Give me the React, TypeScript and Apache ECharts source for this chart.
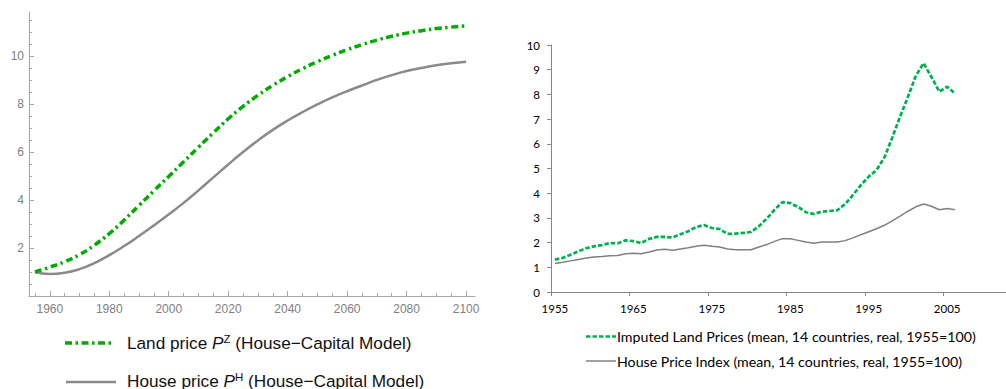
import React, { useEffect, useRef } from "react";
import * as echarts from "echarts";

// ---- House-Capital Model projection (index, 1955 = 1), 5-year steps ----
const modelYears = [
  1955, 1960, 1965, 1970, 1975, 1980, 1985, 1990, 1995, 2000, 2005, 2010, 2015, 2020, 2025,
  2030, 2035, 2040, 2045, 2050, 2055, 2060, 2065, 2070, 2075, 2080, 2085, 2090, 2095, 2100,
];
const landPriceModel = [
  1.0, 1.2, 1.43, 1.72, 2.12, 2.6, 3.16, 3.77, 4.38, 4.98, 5.59, 6.2, 6.8, 7.38, 7.9,
  8.36, 8.77, 9.14, 9.47, 9.76, 10.02, 10.26, 10.47, 10.66, 10.82, 10.95, 11.05, 11.14, 11.2, 11.25,
];
const housePriceModel = [
  1.0, 0.92, 0.97, 1.12, 1.37, 1.7, 2.08, 2.5, 2.94, 3.4, 3.88, 4.4, 4.94, 5.48, 6.0,
  6.48, 6.92, 7.31, 7.66, 7.98, 8.27, 8.53, 8.77, 9.0, 9.2, 9.37, 9.5, 9.61, 9.7, 9.76,
];
const modelLabelYears = [1960, 1980, 2000, 2020, 2040, 2060, 2080, 2100];
const modelMinorYears = [
  1955, 1965, 1970, 1975, 1985, 1990, 1995, 2005, 2010, 2015, 2025, 2030, 2035, 2045, 2050,
  2055, 2065, 2070, 2075, 2085, 2090, 2095,
];
const modelLabelValues = [2, 4, 6, 8, 10];
const modelMinorValues = [0.5, 1, 1.5, 2.5, 3, 3.5, 4.5, 5, 5.5, 6.5, 7, 7.5, 8.5, 9, 9.5, 10.5, 11, 11.5];

// ---- Historical indices (mean, 14 countries, real, 1955 = 1) ----
const histYears = [
  "1955", "1956", "1957", "1958", "1959", "1960", "1961", "1962", "1963", "1964",
  "1965", "1966", "1967", "1968", "1969", "1970", "1971", "1972", "1973", "1974",
  "1975", "1976", "1977", "1978", "1979", "1980", "1981", "1982", "1983", "1984",
  "1985", "1986", "1987", "1988", "1989", "1990", "1991", "1992", "1993", "1994",
  "1995", "1996", "1997", "1998", "1999", "2000", "2001", "2002", "2003", "2004",
  "2005", "2006", "2007", "2008", "2009", "2010", "2011", "2012",
];
const imputedLandPrices = [
  1.31, 1.38, 1.51, 1.65, 1.77, 1.85, 1.9, 1.98, 1.97, 2.09,
  2.06, 1.98, 2.15, 2.23, 2.23, 2.21, 2.34, 2.46, 2.63, 2.71,
  2.59, 2.55, 2.35, 2.36, 2.39, 2.43, 2.66, 2.97, 3.33, 3.64,
  3.6, 3.44, 3.23, 3.16, 3.25, 3.28, 3.31, 3.56, 3.93, 4.33,
  4.67, 4.94, 5.45, 6.25, 7.1, 7.9, 8.75, 9.26, 8.7, 8.11,
  8.31, 8.04,
];
const housePriceIndex = [
  1.15, 1.2, 1.26, 1.32, 1.38, 1.42, 1.44, 1.47, 1.48, 1.55,
  1.57, 1.55, 1.62, 1.7, 1.73, 1.69, 1.74, 1.79, 1.85, 1.89,
  1.85, 1.82, 1.74, 1.71, 1.71, 1.71, 1.82, 1.92, 2.05, 2.16,
  2.16, 2.09, 2.02, 1.97, 2.02, 2.02, 2.02, 2.08, 2.19, 2.32,
  2.44, 2.56, 2.7, 2.88, 3.07, 3.27, 3.45, 3.56, 3.47, 3.33,
  3.38, 3.33,
];

const LAND_MODEL = "#00aa00";
const HOUSE_MODEL = "#8a8a8a";
const LAND_HIST = "#00b050";
const HOUSE_HIST = "#808080";
const MODEL_AXIS = "#a6a6a6";
const MODEL_TEXT = "#808080";
const SANS = "'Liberation Sans', Arial, sans-serif";
const NARROW = "Lato, 'Liberation Sans', sans-serif";

const legendRich = {
  a: { fontFamily: SANS, fontSize: 17.2, lineHeight: 20, fill: "#111" },
  p: { fontFamily: SANS, fontSize: 17.2, fontStyle: "italic", lineHeight: 20, fill: "#111" },
  s: { fontFamily: SANS, fontSize: 11.5, lineHeight: 12, verticalAlign: "top", fill: "#111" },
};

export default function App() {
  const ref = useRef<HTMLDivElement>(null);

  useEffect(() => {
    if (!ref.current) return;
    const chart = echarts.init(ref.current, null, { renderer: "svg" });

    const option: any = {
      animation: false,
      backgroundColor: "#ffffff",
      grid: [
        { left: 29, top: 12, width: 446, height: 284 },
        { left: 551, top: 45, width: 512, height: 247 },
      ],
      xAxis: [
        {
          gridIndex: 0,
          type: "value",
          min: 1953,
          max: 2103,
          axisLine: { show: true, lineStyle: { color: MODEL_AXIS, width: 1 } },
          axisTick: {
            show: true,
            inside: true,
            length: 5,
            customValues: modelLabelYears,
            lineStyle: { color: MODEL_AXIS },
          },
          axisLabel: {
            customValues: modelLabelYears,
            formatter: (v: number) => String(v),
            color: MODEL_TEXT,
            fontFamily: SANS,
            fontSize: 12,
            margin: 7,
          },
          splitLine: { show: false },
        },
        {
          gridIndex: 0,
          type: "value",
          min: 1953,
          max: 2103,
          position: "bottom",
          offset: 0,
          axisLine: { show: false },
          axisTick: {
            show: true,
            inside: true,
            length: 3,
            customValues: modelMinorYears,
            lineStyle: { color: MODEL_AXIS },
          },
          axisLabel: { show: false },
          splitLine: { show: false },
        },
        {
          gridIndex: 1,
          type: "category",
          data: histYears,
          boundaryGap: true,
          axisLine: { show: true, lineStyle: { color: "#868686" } },
          axisTick: { show: true, interval: 9, length: 4, lineStyle: { color: "#868686" } },
          axisLabel: {
            interval: 9,
            color: "#000",
            fontFamily: NARROW,
            fontSize: 11.5,
            margin: 10,
          },
          splitLine: { show: false },
        },
      ],
      yAxis: [
        {
          gridIndex: 0,
          type: "value",
          min: 0,
          max: 11.83,
          axisLine: { show: true, lineStyle: { color: MODEL_AXIS, width: 1 } },
          axisTick: {
            show: true,
            inside: true,
            length: 5,
            customValues: modelLabelValues,
            lineStyle: { color: MODEL_AXIS },
          },
          axisLabel: {
            customValues: modelLabelValues,
            color: MODEL_TEXT,
            fontFamily: SANS,
            fontSize: 12,
            margin: 5,
          },
          splitLine: { show: false },
        },
        {
          gridIndex: 0,
          type: "value",
          min: 0,
          max: 11.83,
          position: "left",
          offset: 0,
          axisLine: { show: false },
          axisTick: {
            show: true,
            inside: true,
            length: 3,
            customValues: modelMinorValues,
            lineStyle: { color: MODEL_AXIS },
          },
          axisLabel: { show: false },
          splitLine: { show: false },
        },
        {
          gridIndex: 1,
          type: "value",
          min: 0,
          max: 10,
          interval: 1,
          axisLine: { show: true, lineStyle: { color: "#868686" } },
          axisTick: { show: true, length: 4, lineStyle: { color: "#868686" } },
          axisLabel: {
            color: "#000",
            fontFamily: NARROW,
            fontSize: 11.5,
            margin: 11,
          },
          splitLine: { show: false },
        },
      ],
      series: [
        {
          name: "House price (model)",
          type: "line",
          xAxisIndex: 0,
          yAxisIndex: 0,
          data: modelYears.map((y, i) => [y, housePriceModel[i]]),
          smooth: 0.5,
          showSymbol: false,
          lineStyle: { color: HOUSE_MODEL, width: 2.5 },
        },
        {
          name: "Land price (model)",
          type: "line",
          xAxisIndex: 0,
          yAxisIndex: 0,
          data: modelYears.map((y, i) => [y, landPriceModel[i]]),
          smooth: 0.5,
          showSymbol: false,
          lineStyle: { color: LAND_MODEL, width: 3.5, type: [7, 3.5, 2.5, 3.5] },
        },
        {
          name: "House Price Index",
          type: "line",
          xAxisIndex: 2,
          yAxisIndex: 2,
          data: housePriceIndex,
          showSymbol: false,
          lineStyle: { color: HOUSE_HIST, width: 1.5 },
        },
        {
          name: "Imputed Land Prices",
          type: "line",
          xAxisIndex: 2,
          yAxisIndex: 2,
          data: imputedLandPrices,
          showSymbol: false,
          lineStyle: { color: LAND_HIST, width: 2.7, type: [4.5, 2] },
        },
      ],
      graphic: [
        // legend of the model panel
        {
          type: "line",
          shape: { x1: 65, y1: 343, x2: 113, y2: 343 },
          style: { stroke: LAND_MODEL, lineWidth: 3.5, lineDash: [7, 3.5, 2.5, 3.5] },
        },
        {
          type: "text",
          x: 127,
          y: 343,
          style: {
            text: "{a|Land price }{p|P}{s|Z}{a| (House\u2212Capital Model)}",
            verticalAlign: "middle",
            fill: "#111",
            rich: legendRich,
          },
        },
        {
          type: "line",
          shape: { x1: 66, y1: 382, x2: 116, y2: 382 },
          style: { stroke: HOUSE_MODEL, lineWidth: 2.5 },
        },
        {
          type: "text",
          x: 127,
          y: 380.5,
          style: {
            text: "{a|House price }{p|P}{s|H}{a| (House\u2212Capital Model)}",
            verticalAlign: "middle",
            fill: "#111",
            rich: legendRich,
          },
        },
        // legend of the historical panel
        {
          type: "line",
          shape: { x1: 586, y1: 336.5, x2: 616, y2: 336.5 },
          style: { stroke: LAND_HIST, lineWidth: 2.7, lineDash: [4.5, 2] },
        },
        {
          type: "text",
          x: 617,
          y: 336.5,
          style: {
            text: "Imputed Land Prices (mean, 14 countries, real, 1955=100)",
            font: `14.2px ${NARROW}`,
            fill: "#000",
            verticalAlign: "middle",
          },
        },
        {
          type: "line",
          shape: { x1: 586, y1: 361, x2: 616, y2: 361 },
          style: { stroke: HOUSE_HIST, lineWidth: 1.5 },
        },
        {
          type: "text",
          x: 617,
          y: 361,
          style: {
            text: "House Price Index (mean, 14 countries, real, 1955=100)",
            font: `14.2px ${NARROW}`,
            fill: "#000",
            verticalAlign: "middle",
          },
        },
      ],
    };

    chart.setOption(option);
    return () => chart.dispose();
  }, []);

  return (
    <div
      ref={ref}
      style={{ position: "fixed", left: 0, top: 0, width: 1006, height: 389, background: "#fff" }}
    />
  );
}
